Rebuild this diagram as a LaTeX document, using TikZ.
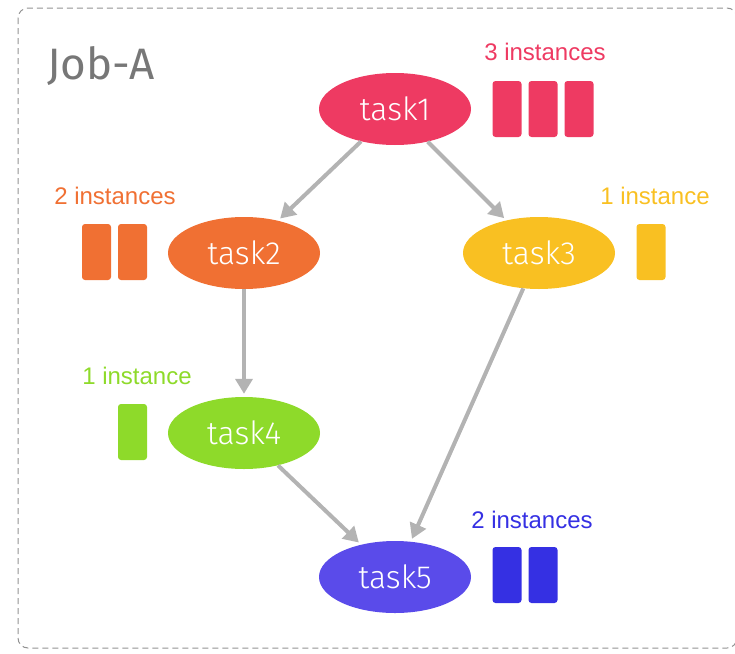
\documentclass[tikz,border=0pt]{standalone}
\usepackage{fontspec}
\setmainfont{Fira Sans}
\newfontfamily\lightfont{Fira Sans Light}
\newfontfamily\instfont{Liberation Sans}
\usetikzlibrary{arrows.meta}
\usetikzlibrary{shapes.geometric}

\definecolor{redA}{HTML}{EE3A62}
\definecolor{orangeA}{HTML}{F07033}
\definecolor{yellowA}{HTML}{F9C022}
\definecolor{greenA}{HTML}{8EDA2A}
\definecolor{blueA}{HTML}{5A4BEA}
\definecolor{blueB}{HTML}{3530E3}
\definecolor{edgeA}{HTML}{B3B3B3}
\definecolor{jobA}{HTML}{777777}

\tikzset{
  task/.style={ellipse,draw=none,fill=#1,text=white,minimum width=152pt,minimum height=72pt,inner sep=0pt,font=\lightfont\fontsize{32}{38}\selectfont},
  inst/.style={rectangle,rounded corners=3pt,fill=#1,minimum width=29pt,minimum height=56pt,inner sep=0pt},
  lbl/.style={text=#1,inner sep=0pt,font=\instfont\fontsize{24}{28}\selectfont},
  flow/.style={draw=edgeA,line width=4pt,-{Triangle[length=15pt,width=17pt]},shorten >=3pt}
}

\begin{document}
\begin{tikzpicture}[x=1pt,y=-1pt]
\useasboundingbox (0,0) rectangle (735,653);
\draw[jobA!80,dashed,dash pattern=on 6pt off 4pt,line width=1pt,rounded corners=10pt] (18,8) rectangle (737,648);
\node[anchor=west,text=jobA,inner sep=0pt,font=\fontsize{44}{50}\selectfont] (job) at (47,66) {Job-A};

% tasks
\node[task=redA] (t1) at (395,109) {task1};
\node[task=orangeA] (t2) at (244,253) {task2};
\node[task=yellowA] (t3) at (539,253) {task3};
\node[task=greenA] (t4) at (244,433) {task4};
\node[task=blueA] (t5) at (395,577) {task5};

% instances
\node[inst=redA] (i1a) at (507,109) {};
\node[inst=redA] (i1b) at (543,109) {};
\node[inst=redA] (i1c) at (579,109) {};
\node[inst=orangeA] (i2a) at (96.5,252) {};
\node[inst=orangeA] (i2b) at (132.5,252) {};
\node[inst=yellowA] (i3a) at (651,252) {};
\node[inst=greenA] (i4a) at (132.5,432) {};
\node[inst=blueB] (i5a) at (507,575) {};
\node[inst=blueB] (i5b) at (543,575) {};

\node[lbl=redA] (n1) at (545,52) {3 instances};
\node[lbl=orangeA] (n2) at (115,196) {2 instances};
\node[lbl=yellowA] (n3) at (655,196) {1 instance};
\node[lbl=greenA] (n4) at (137,376) {1 instance};
\node[lbl=blueB] (n5) at (532,520) {2 instances};

% edges
\draw[flow] (t1) -- (t2);
\draw[flow] (t1) -- (t3);
\draw[flow] (t2) -- (t4);
\draw[flow] (t3) -- (t5);
\draw[flow] (t4) -- (t5);
\end{tikzpicture}
\end{document}
